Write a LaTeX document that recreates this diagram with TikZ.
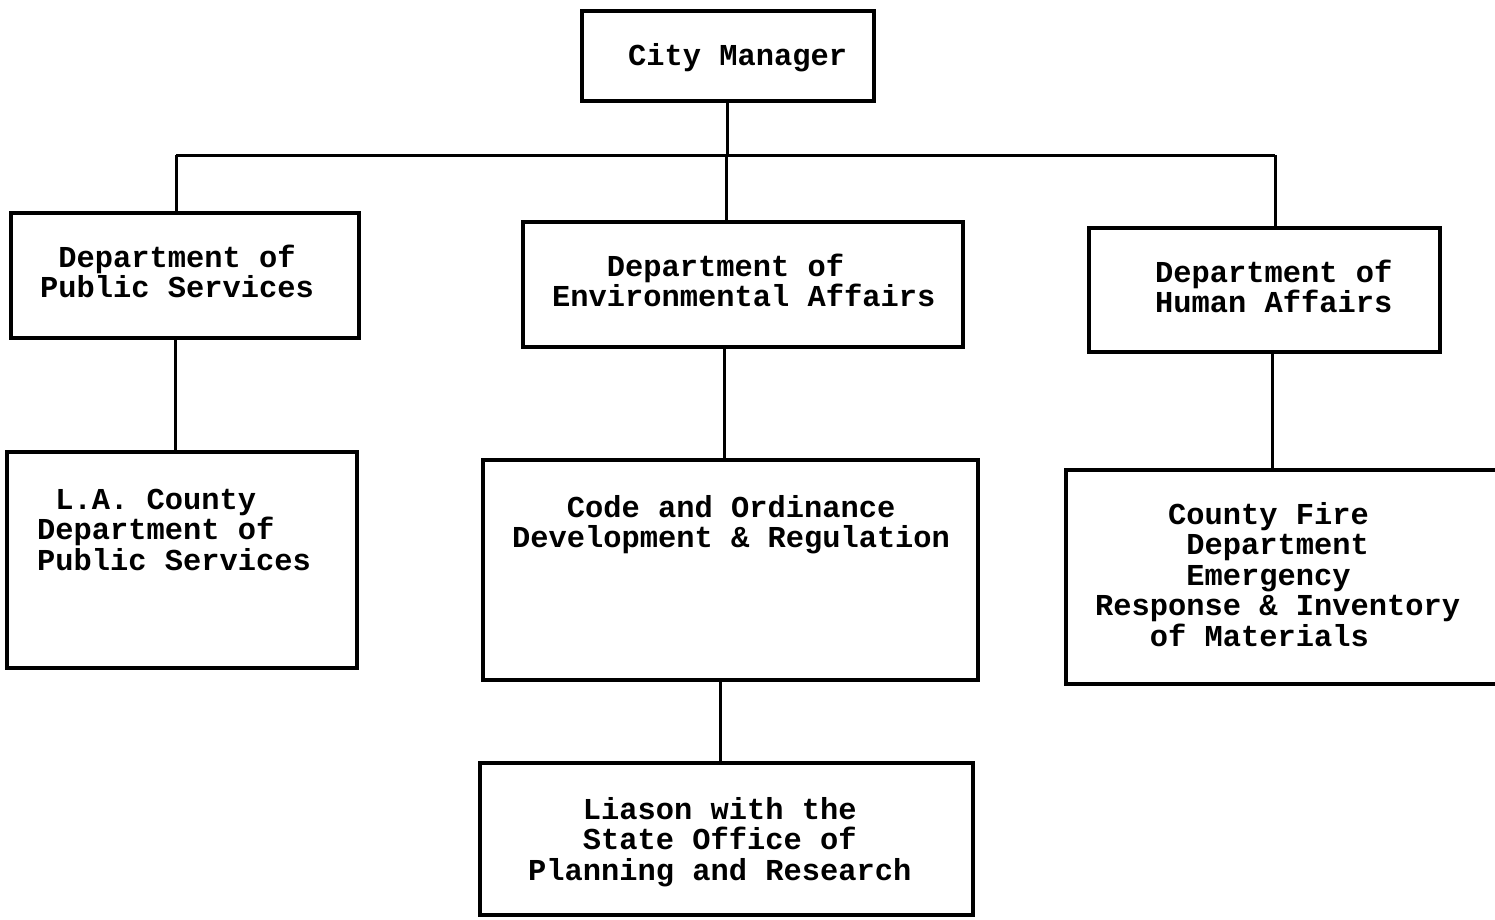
\documentclass[tikz,border=0pt]{standalone}
\usepackage{fontspec}
\setmonofont{Liberation Mono}
\begin{document}
\begin{tikzpicture}[x=1pt,y=-1pt,
  box/.style={draw, line width=3.4pt, inner sep=0pt, outer sep=0pt},
  link/.style={line width=3pt},
  % multi-line labels are placed by the baseline of their last line
  txt/.style={anchor=base west, inner sep=0pt, align=left,
    font=\fontsize{30.4}{30.5}\selectfont\ttfamily\bfseries}
]
\useasboundingbox (0,0) rectangle (1495,919);
\fill[white] (0,0) rectangle (1495,919);
\clip (0,0) rectangle (1495,919);

% boxes
\node[box, minimum width=292pt, minimum height=90pt]  (cm)  at (728,56) {};
\node[box, minimum width=348pt, minimum height=125pt] (dps) at (185,275.5) {};
\node[box, minimum width=440pt, minimum height=125pt] (dea) at (743,284.5) {};
\node[box, minimum width=351pt, minimum height=124pt] (dha) at (1264.5,290) {};
\node[box, minimum width=350pt, minimum height=216pt] (lac) at (182,560) {};
\node[box, minimum width=495pt, minimum height=220pt] (cod) at (730.5,570) {};
\node[box, minimum width=454pt, minimum height=214pt] (cfd) at (1293,577) {};
\node[box, minimum width=493pt, minimum height=152pt] (lsn) at (726.5,839) {};

% labels
\node[txt] (cmT)  at (628,65)    {City Manager};
\node[txt] (dpsT) at (40,297.5)  {\hphantom{x}Department of\\Public Services};
\node[txt] (deaT) at (552,306.5) {\hphantom{xxx}Department of\\Environmental Affairs};
\node[txt] (dhaT) at (1155,312.5) {Department of\\Human Affairs};
\node[txt] (lacT) at (37,570)    {\hphantom{x}L.A. County\\Department of\\Public Services};
\node[txt] (codT) at (512,547.5) {\hphantom{xxx}Code and Ordinance\\Development \& Regulation};
\node[txt] (cfdT) at (1095,646)  {\hphantom{xxxx}County Fire\\\hphantom{xxxxx}Department\\\hphantom{xxxxx}Emergency\\Response \& Inventory\\\hphantom{xxx}of Materials};
\node[txt] (lsnT) at (528,880)   {\hphantom{xxx}Liason with the\\\hphantom{xxx}State Office of\\Planning and Research};

% connectors
\coordinate (barL) at (176,155);
\coordinate (barR) at (1275,155);
\draw[link] (barL) -- (barR);
\draw[link] ([xshift=-1pt]cm.south) -- ([xshift=-1pt]cm.south |- barL);
\draw[link] (barL) -- ([xshift=-9pt]dps.north);
\draw[link] ([xshift=-17pt]dea.north |- barL) -- ([xshift=-17pt]dea.north);
\draw[link] ([xshift=10.5pt]dha.north |- barR) -- ([xshift=10.5pt]dha.north);
\draw[link] ([xshift=-10pt]dps.south) -- ([xshift=-10pt]dps.south |- lac.north);
\draw[link] ([xshift=-19pt]dea.south) -- ([xshift=-19pt]dea.south |- cod.north);
\draw[link] ([xshift=7.5pt]dha.south) -- ([xshift=7.5pt]dha.south |- cfd.north);
\draw[link] ([xshift=-10.5pt]cod.south) -- ([xshift=-10.5pt]cod.south |- lsn.north);
\end{tikzpicture}
\end{document}
